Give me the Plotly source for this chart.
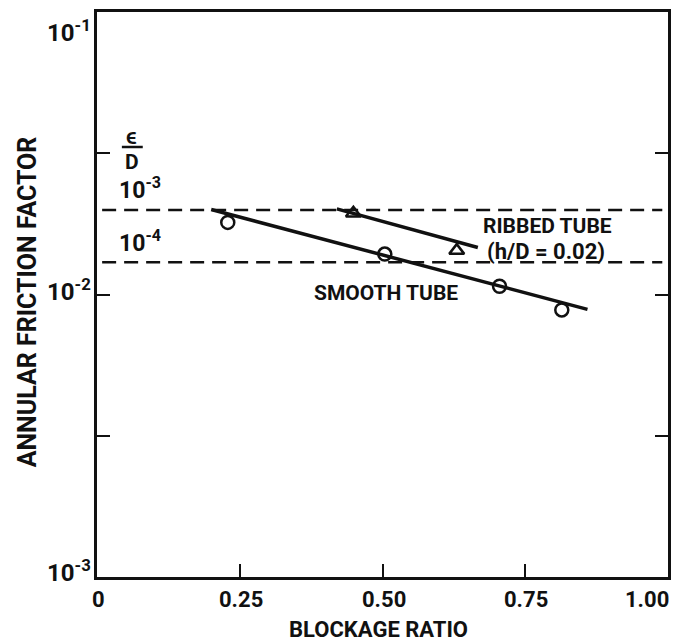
import plotly.graph_objects as go

# Measured friction factors (open symbols)
smooth_blockage = [0.229, 0.504, 0.705, 0.814]
smooth_friction = [0.0180, 0.0139, 0.0107, 0.00882]
ribbed_blockage = [0.449, 0.630]
ribbed_friction = [0.0194, 0.0143]

# Correlation lines through each data set
smooth_fit_blockage = [0.200, 0.859]
smooth_fit_friction = [0.0200, 0.00886]
ribbed_fit_blockage = [0.420, 0.667]
ribbed_fit_friction = [0.0201, 0.01467]

# Relative-roughness reference levels (eps/D = 1e-3 and 1e-4)
rough_span = [0.009, 0.990]
rough_levels = {"-3": 0.0199, "-4": 0.0130}

x_tick_vals = [0, 0.25, 0.50, 0.75, 1.00]
x_tick_text = ["0", "0.25", "0.50", "0.75", "1.00"]
y_tick_vals = [0.1, 10 ** -1.5, 0.01, 10 ** -2.5, 0.001]
y_tick_text = ["10<sup>-1</sup>", "", "10<sup>-2</sup>", "", "10<sup>-3</sup>"]

FONT = "Roboto, Lato, Liberation Sans, sans-serif"
INK = "#111111"

# plot-area geometry in pixels (used to place free text)
W, H = 675, 643
L, R, T, B = 97, 671, 12, 577


def px(x):
    return (x - L) / (R - L)


def py(y):
    return (B - y) / (B - T)


fig = go.Figure()

for lvl in rough_levels.values():
    fig.add_trace(go.Scatter(
        x=rough_span, y=[lvl, lvl], mode="lines",
        line=dict(color=INK, width=2.5, dash="14px,8px"),
        showlegend=False, hoverinfo="skip"))

fig.add_trace(go.Scatter(
    x=smooth_fit_blockage, y=smooth_fit_friction, mode="lines",
    line=dict(color=INK, width=3.5), showlegend=False))
fig.add_trace(go.Scatter(
    x=ribbed_fit_blockage, y=ribbed_fit_friction, mode="lines",
    line=dict(color=INK, width=3.5), showlegend=False))

fig.add_trace(go.Scatter(
    x=smooth_blockage, y=smooth_friction, mode="markers",
    marker=dict(symbol="circle-open", size=13, color=INK, line=dict(width=2.5)),
    showlegend=False))
fig.add_trace(go.Scatter(
    x=ribbed_blockage, y=ribbed_friction, mode="markers",
    marker=dict(symbol="triangle-up-open", size=13, color=INK, line=dict(width=2.5)),
    showlegend=False))

ann = []


def f(size):
    return dict(family=FONT, size=size, color=INK)


def label(x, y, text, size=21, xanchor="center", **kw):
    ann.append(dict(x=x, y=y, xref="paper", yref="paper", text=f"<b>{text}</b>",
                    showarrow=False, font=f(size), xanchor=xanchor,
                    yanchor="middle", borderpad=0, **kw))


# x tick labels
for v, t in zip(x_tick_vals, x_tick_text):
    if v == 1.0:
        label(v, py(599), t, size=22, xanchor="right", xshift=2)
    else:
        label(v, py(599), t, size=22, xshift=1)

# y tick labels (decades only)
y_label_px = {0.1: 31, 0.01: 290, 0.001: 571}
for v, t in zip(y_tick_vals, y_tick_text):
    if t:
        label(px(92), py(y_label_px[v]), t, size=24, xanchor="right")

# axis titles
label(px(380), py(629), "BLOCKAGE RATIO", size=22)
label(px(27), py(302), "ANNULAR FRICTION FACTOR", size=25, textangle=-90)

# eps/D label and roughness levels
label(px(132), py(136), "ϵ", size=23)
label(px(132), py(162), "D", size=21)
for key, yy in (("-3", 188), ("-4", 242)):
    label(px(140), py(yy), f"10<sup>{key}</sup>", size=23)

# curve labels
label(px(550), py(226), "RIBBED TUBE", size=21)
label(px(548), py(251), "(h/D = 0.02)", size=22)
label(px(388), py(293), "SMOOTH TUBE", size=21)

fig.update_layout(
    width=W, height=H,
    margin=dict(l=L, r=W - R, t=T, b=H - B),
    paper_bgcolor="white", plot_bgcolor="white",
    annotations=ann,
    shapes=[dict(type="line", xref="paper", yref="paper",
                 x0=px(122), x1=px(143), y0=py(147), y1=py(147),
                 line=dict(color=INK, width=2.5))],
)
fig.update_xaxes(
    range=[0, 1], tickvals=x_tick_vals[1:-1], showticklabels=False,
    ticks="inside", ticklen=13, tickwidth=2, tickcolor=INK,
    showline=True, linewidth=3, linecolor=INK, mirror=True,
    showgrid=False, zeroline=False)
fig.update_yaxes(
    type="log", range=[-3, -1], tickvals=y_tick_vals[1:-1], showticklabels=False,
    ticks="inside", ticklen=13, tickwidth=2, tickcolor=INK,
    showline=True, linewidth=3, linecolor=INK, mirror="allticks",
    showgrid=False, zeroline=False)

fig.write_html("out.html")
